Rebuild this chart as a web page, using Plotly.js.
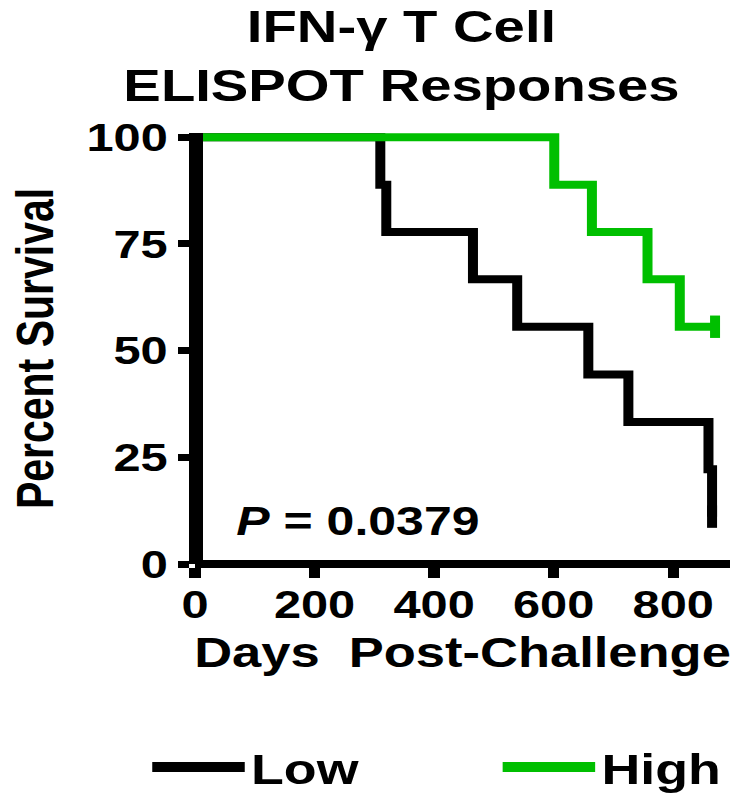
<!DOCTYPE html>
<html>
<head>
<meta charset="utf-8">
<script src="https://cdn.plot.ly/plotly-3.0.1.min.js"></script>
<style>
html, body { margin: 0; padding: 0; background: #ffffff; overflow: hidden; }
#chart { width: 584px; height: 799px; transform: scaleX(1.25); transform-origin: 0 0; }
</style>
</head>
<body>
<div id="chart"></div>
<script>
// ---- data ----
const lowDays = [0, 310, 320, 465, 539, 658, 725, 859, 865];
const lowSurvival = [100, 88.9, 77.8, 66.7, 55.6, 44.4, 33.3, 22.2, 11.1];
const lowCensorDays = [865];
const lowCensorSurvival = [11.1];

const highDays = [0, 601, 664, 757, 811, 870];
const highSurvival = [100, 88.9, 77.8, 66.7, 55.6, 55.6];
const highCensorDays = [870];
const highCensorSurvival = [55.6];

const seriesNames = ['Low', 'High'];
const seriesColors = ['#000000', '#00bf00'];

const xTickVals = [0, 200, 400, 600, 800];
const xTickText = ['0', '200', '400', '600', '800'];
const yTickVals = [0, 25, 50, 75, 100];
const yTickText = ['0', '25', '50', '75', '100'];

const titleText = 'IFN-γ T Cell<br>ELISPOT Responses';
const xTitleText = 'Days\u00a0\u00a0Post-Challenge';
const yTitleText = 'Percent Survival';
const pValueText = '<i>P</i> = 0.0379';
const pValueX = 64;
const pValueY = 10;

const FONT = '"Liberation Sans", Arial, Helvetica, sans-serif';

function stepTrace(x, y, color) {
  return {
    type: 'scatter', mode: 'lines', x: x, y: y, showlegend: false,
    line: { shape: 'hv', color: color, width: 8 },
    hoverinfo: 'skip'
  };
}
function censorTrace(x, y, color) {
  return {
    type: 'scatter', mode: 'markers', x: x, y: y, showlegend: false,
    marker: { symbol: 'line-ns', size: 16, line: { color: color, width: 8 } },
    hoverinfo: 'skip', cliponaxis: false
  };
}
// legend-only entries (no data points), thicker key line as in the reference
function legendKey(name, color, legendId) {
  return {
    type: 'scatter', mode: 'lines', x: [null], y: [null], name: name,
    legend: legendId, showlegend: true,
    line: { color: color, width: 14 }, hoverinfo: 'skip'
  };
}

const data = [
  stepTrace(lowDays, lowSurvival, seriesColors[0]),
  censorTrace(lowCensorDays, lowCensorSurvival, seriesColors[0]),
  stepTrace(highDays, highSurvival, seriesColors[1]),
  censorTrace(highCensorDays, highCensorSurvival, seriesColors[1]),
  legendKey(seriesNames[0], seriesColors[0], 'legend'),
  legendKey(seriesNames[1], seriesColors[1], 'legend2')
];

const legendFont = { family: FONT, size: 43, weight: 'bold', color: '#000000' };

const layout = {
  width: 584, height: 799,
  margin: { l: 156, r: 0, t: 133, b: 235, pad: 0 },
  paper_bgcolor: '#ffffff', plot_bgcolor: '#ffffff',
  font: { family: FONT, color: '#000000', weight: 'bold' },
  showlegend: true,
  title: {
    text: titleText,
    font: { family: FONT, size: 45, weight: 'bold', color: '#000000' },
    xref: 'container', x: 0.55, xanchor: 'center',
    yref: 'container', y: 0.947, yanchor: 'top'
  },
  xaxis: {
    range: [0, 895], anchor: 'free', position: 0,
    showline: true, linewidth: 8, linecolor: '#000000',
    ticks: 'outside', ticklen: 10, tickwidth: 9, tickcolor: '#000000',
    ticklabelstandoff: -7,
    tickmode: 'array', tickvals: xTickVals, ticktext: xTickText,
    tickfont: { family: FONT, size: 39, weight: 'bold', color: '#000000' },
    showgrid: false, zeroline: false, fixedrange: true,
    title: { text: xTitleText, font: { family: FONT, size: 42, weight: 'bold', color: '#000000' }, standoff: 12 }
  },
  yaxis: {
    range: [0, 101], anchor: 'free', position: 0,
    showline: true, linewidth: 11, linecolor: '#000000',
    ticks: 'outside', ticklen: 9, tickwidth: 7, tickcolor: '#000000',
    tickmode: 'array', tickvals: yTickVals, ticktext: yTickText,
    tickfont: { family: FONT, size: 39, weight: 'bold', color: '#000000' },
    showgrid: false, zeroline: false, fixedrange: true,
    title: { text: yTitleText, font: { family: FONT, size: 41, weight: 'bold', color: '#000000' }, standoff: 12 }
  },
  legend: {
    orientation: 'h', xref: 'container', yref: 'container',
    x: 0.2, y: 0.04, xanchor: 'left', yanchor: 'middle',
    itemwidth: 74, font: legendFont, bgcolor: 'rgba(0,0,0,0)'
  },
  legend2: {
    orientation: 'h', xref: 'container', yref: 'container',
    x: 0.68, y: 0.04, xanchor: 'left', yanchor: 'middle',
    itemwidth: 74, font: legendFont, bgcolor: 'rgba(0,0,0,0)'
  },
  annotations: [{
    text: pValueText, xref: 'x', yref: 'y', x: pValueX, y: pValueY,
    xanchor: 'left', yanchor: 'middle', showarrow: false,
    font: { family: FONT, size: 40, weight: 'bold', color: '#000000' }
  }]
};

Plotly.newPlot('chart', data, layout, { displayModeBar: false, staticPlot: true });
</script>
</body>
</html>
